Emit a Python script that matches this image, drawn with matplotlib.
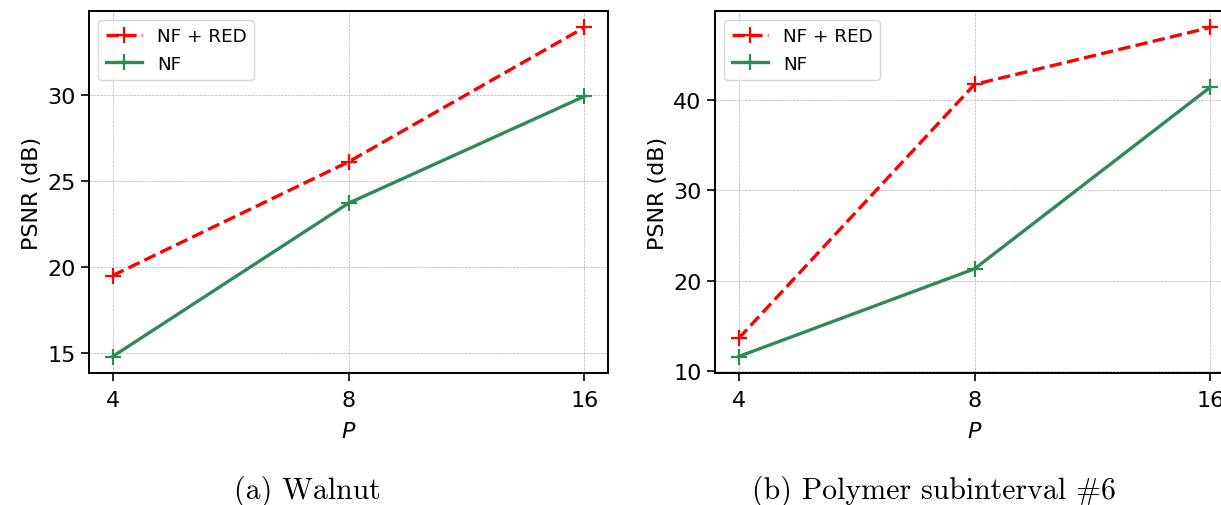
import matplotlib

matplotlib.use("Agg")
import matplotlib.pyplot as plt
from matplotlib.ticker import MultipleLocator

# number of projections P
p_values = [4, 8, 16]

# (a) Walnut
walnut_nf_red = [19.5, 26.1, 33.9]
walnut_nf = [14.8, 23.7, 29.9]

# (b) Polymer subinterval #6
polymer_nf_red = [13.6, 41.7, 48.0]
polymer_nf = [11.6, 21.3, 41.4]

captions = ["(a) Walnut", "(b) Polymer subinterval #6"]

RED = "red"
GREEN = "seagreen"

fig = plt.figure(figsize=(12.21, 5.06), dpi=100)
ax_a = fig.add_axes([89 / 1221, 1 - 374 / 506, 519 / 1221, 362 / 506])
ax_b = fig.add_axes([715 / 1221, 1 - 374 / 506, 519 / 1221, 362 / 506])


def draw_panel(ax, nf_red, nf, ystep):
    ax.plot(p_values, nf_red, "--", color=RED, lw=2.4, marker="+", ms=12, mew=1.6,
            label="NF + RED")
    ax.plot(p_values, nf, "-", color=GREEN, lw=2.4, marker="+", ms=12, mew=1.6,
            label="NF")
    ax.set_xscale("log", base=2)
    ax.set_xticks(p_values)
    ax.set_xticklabels([str(p) for p in p_values])
    ax.minorticks_off()
    ax.yaxis.set_major_locator(MultipleLocator(ystep))
    ax.tick_params(labelsize=16, length=6, width=1.2)
    ax.tick_params(axis="x", pad=6)
    ax.set_xlabel("$P$", fontsize=16, labelpad=8)
    ax.set_ylabel("PSNR (dB)", fontsize=16)
    ax.grid(True, ls="--", lw=0.5, color="#b0b0b0")
    ax.legend(loc="upper left", fontsize=13.2)
    for s in ax.spines.values():
        s.set_linewidth(1.4)


draw_panel(ax_a, walnut_nf_red, walnut_nf, 5)
draw_panel(ax_b, polymer_nf_red, polymer_nf, 10)

# subfigure captions (LaTeX-style)
fig.text(307 / 1221, 1 - 491 / 506, captions[0], fontsize=21.5, family="cmr10",
         ha="center", va="center")
fig.text(934 / 1221, 1 - 491 / 506, captions[1], fontsize=21.5, family="cmr10",
         ha="center", va="center")

fig.savefig("out.png", dpi=100)
